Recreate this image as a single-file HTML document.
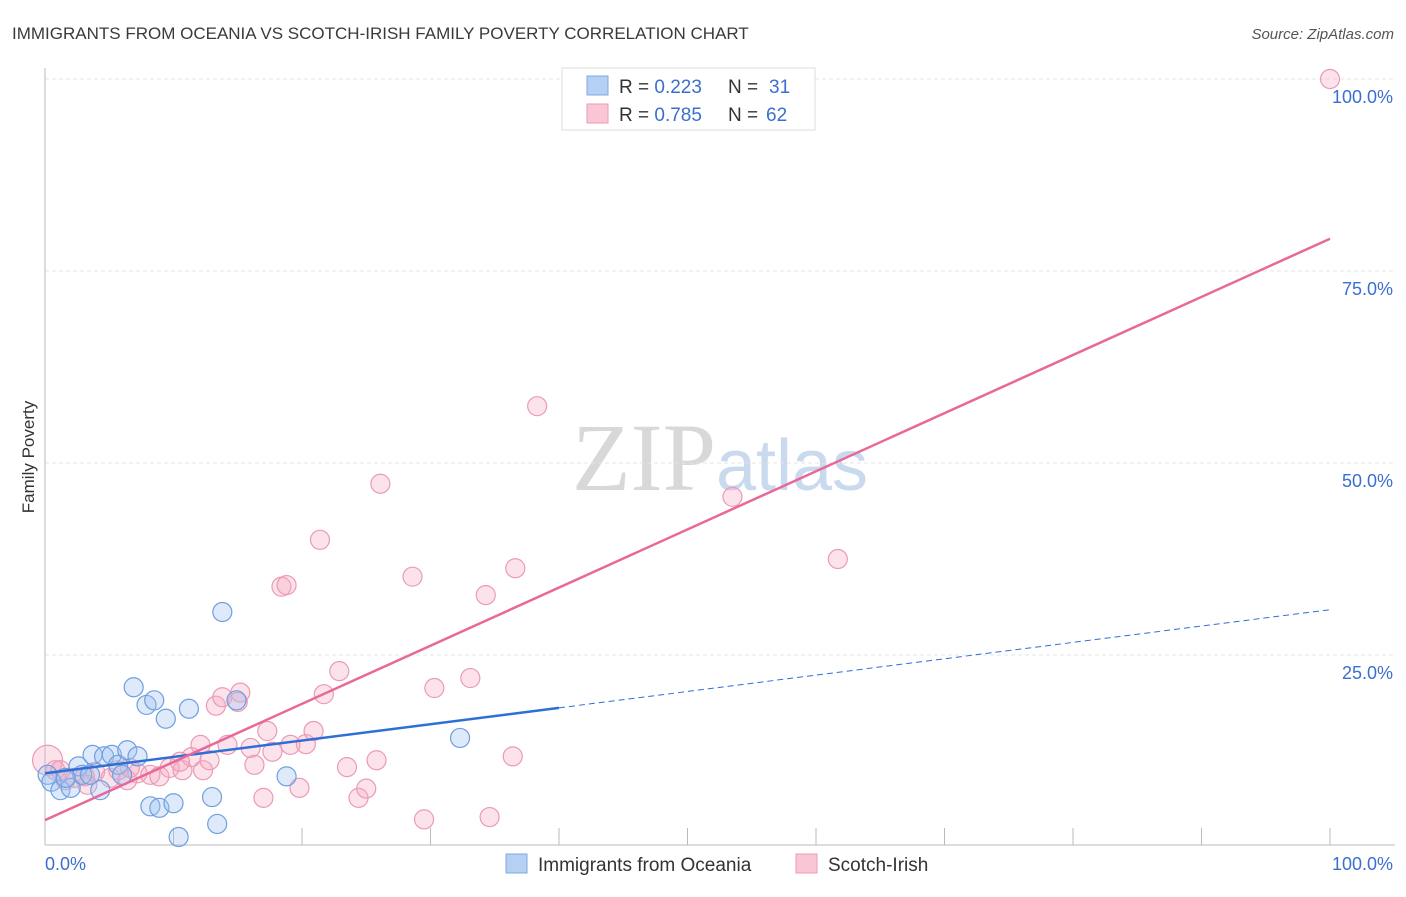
<!DOCTYPE html>
<html><head><meta charset="utf-8"><style>
body{margin:0;background:#fff;font-family:"Liberation Sans",sans-serif}
</style></head><body>
<svg id="chart" width="1406" height="892" xmlns="http://www.w3.org/2000/svg" font-family="Liberation Sans, sans-serif">
<text x="12" y="39" font-size="17" fill="#3a3a3a">IMMIGRANTS FROM OCEANIA VS SCOTCH-IRISH FAMILY POVERTY CORRELATION CHART</text>
<text x="1394" y="39" font-size="15" font-style="italic" fill="#555" text-anchor="end">Source: ZipAtlas.com</text>
<text x="720" y="490" font-size="96" text-anchor="middle"><tspan font-family="Liberation Serif,serif" fill="#d8d8d8">ZIP</tspan><tspan fill="#c9d9ee" font-size="72">atlas</tspan></text>
<text transform="translate(34,457) rotate(-90)" font-size="17" fill="#333" text-anchor="middle">Family Poverty</text>
<g id="grid"></g><g id="ticks"></g><g id="marks"></g>
<g>
<rect x="562" y="68" width="253" height="62" fill="#fff" stroke="#ddd"/>
<rect x="587" y="76" width="21" height="19" fill="#b5d0f3" stroke="#7fa9e0"/>
<rect x="587" y="104" width="21" height="19" fill="#fac6d5" stroke="#ee9ab3"/>
<text x="619" y="93" font-size="19" fill="#333">R = <tspan fill="#3a6fd0">0.223</tspan><tspan x="728">N = </tspan><tspan fill="#3a6fd0" x="769">31</tspan></text>
<text x="619" y="121" font-size="19" fill="#333">R = <tspan fill="#3a6fd0">0.785</tspan><tspan x="728">N = </tspan><tspan fill="#3a6fd0" x="766">62</tspan></text>
</g>
<g>
<rect x="506" y="854" width="21" height="19" fill="#b5d0f3" stroke="#7fa9e0"/>
<text x="538" y="871" font-size="19" fill="#333">Immigrants from Oceania</text>
<rect x="796" y="854" width="21" height="19" fill="#fac6d5" stroke="#ee9ab3"/>
<text x="828" y="871" font-size="19" fill="#333">Scotch-Irish</text>
</g>
</svg>
<script>
const blueX=[0.2,0.5,1.2,2.0,2.6,2.9,3.7,4.3,4.6,5.2,5.7,6.4,7.2,6.9,7.9,8.5,9.4,11.2,13.8,14.9,8.2,8.9,10.0,13.0,13.4,10.4,18.8,32.3,3.5,6.0,1.6];
const blueY=[9.4,8.5,7.4,7.7,10.5,9.4,12.0,7.4,11.8,12.0,10.7,12.6,11.8,20.8,18.5,19.1,16.7,18.0,30.6,19.1,5.3,5.1,5.7,6.5,3.0,1.3,9.2,14.2,9.4,9.4,9.0];
const pinkX=[0.2,0.8,1.6,2.3,3.1,3.9,5.1,5.7,6.4,7.2,8.2,8.9,9.7,10.7,11.4,12.1,12.3,12.8,13.3,13.8,15.2,14.2,16.0,16.3,17.0,17.3,17.7,19.1,20.3,20.9,19.8,18.4,18.8,21.4,21.7,22.9,23.5,24.4,25.0,25.8,26.1,28.6,29.5,30.3,33.1,34.3,34.6,36.4,36.6,38.3,53.5,61.7,100,15.0,10.5,3.3,6.6,1.2];
const pinkY=[11.3,10.0,8.7,9.0,9.2,9.8,9.0,10.0,8.7,9.6,9.4,9.2,10.3,10.0,11.7,13.3,10.0,11.3,18.4,19.5,20.1,13.3,12.9,10.7,6.4,15.1,12.4,13.3,13.4,15.1,7.7,33.9,34.1,40.0,19.9,22.9,10.4,6.4,7.6,11.3,47.3,35.2,3.6,20.7,22.0,32.8,3.9,11.8,36.3,57.4,45.6,37.5,100,18.9,11.1,8.1,10.3,10.0];
const yTicks=[25,50,75,100];
const yTickLabels=["25.0%","50.0%","75.0%","100.0%"];
const xTicks=[10,20,30,40,50,60,70,80,90,100];
const blueFit=[9.6,30.9];const blueSolidEnd=40;
const pinkFit=[3.5,79.2];
const NS="http://www.w3.org/2000/svg";
const sx=v=>45+v*12.85, sy=v=>847-v*7.68;
function mk(tag,attrs,parent){const e=document.createElementNS(NS,tag);for(const k in attrs)e.setAttribute(k,attrs[k]);document.getElementById(parent).appendChild(e);return e;}
yTicks.forEach((t,i)=>{
 const g=mk('line',{x1:45,x2:1395,y1:sy(t),y2:sy(t),stroke:'#e4e4e4','stroke-dasharray':'4,3'},'grid');
 
 
 const l=mk('text',{x:1393,y:sy(t)+24,'font-size':18,fill:'#3a6fd0','text-anchor':'end'},'ticks');
 l.textContent=yTickLabels[i];
 
 
});
const ax=mk('line',{x1:45,x2:45,y1:68,y2:845,stroke:'#bbb'},'ticks');


const bx=mk('line',{x1:45,x2:1395,y1:845,y2:845,stroke:'#bbb'},'ticks');


xTicks.forEach(t=>{const e=mk('line',{x1:sx(t),x2:sx(t),y1:828,y2:845,stroke:'#bbb'},'ticks');
 
 });
const x0=mk('text',{x:45,y:870,'font-size':18,fill:'#3a6fd0'},'ticks');x0.textContent='0.0%';


const x1=mk('text',{x:1393,y:870,'font-size':18,fill:'#3a6fd0','text-anchor':'end'},'ticks');x1.textContent='100.0%';


pinkX.forEach((x,i)=>{const c=mk('circle',{cx:sx(x),cy:sy(pinkY[i]),r:i===0?15:9.5,fill:'rgba(246,170,195,0.33)',stroke:'#ec9ab4','stroke-width':1.2},'marks');
 
 });
blueX.forEach((x,i)=>{const c=mk('circle',{cx:sx(x),cy:sy(blueY[i]),r:9.5,fill:'rgba(160,195,240,0.35)',stroke:'#6e9fe0','stroke-width':1.2},'marks');
 
 });
const by=x=>blueFit[0]+(blueFit[1]-blueFit[0])*x/100;
const bl=mk('line',{x1:sx(0),y1:sy(by(0)),x2:sx(blueSolidEnd),y2:sy(by(blueSolidEnd)),stroke:'#2e6fd6','stroke-width':2.5},'marks');


const bd=mk('line',{x1:sx(blueSolidEnd),y1:sy(by(blueSolidEnd)),x2:sx(100),y2:sy(by(100)),stroke:'#2e6fd6','stroke-width':1,'stroke-dasharray':'6,4'},'marks');


const pl=mk('line',{x1:sx(0),y1:sy(pinkFit[0]),x2:sx(100),y2:sy(pinkFit[1]),stroke:'#e8689a','stroke-width':2.5},'marks');


</script>
</body></html>
